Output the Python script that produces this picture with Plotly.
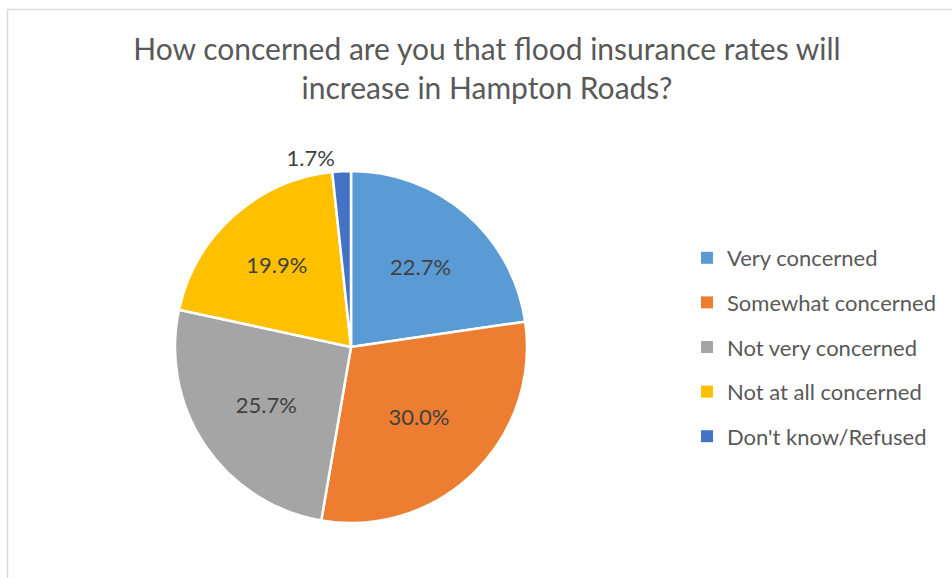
import plotly.graph_objects as go

categories = ["Very concerned", "Somewhat concerned", "Not very concerned",
              "Not at all concerned", "Don't know/Refused"]
values = [22.7, 30.0, 25.7, 19.9, 1.7]
colors = ["#5B9BD5", "#ED7D31", "#A5A5A5", "#FFC000", "#4472C4"]
title_text = "How concerned are you that flood insurance rates will<br>increase in Hampton Roads?"

W, H = 952, 578
FONT = "Lato"

fig = go.Figure()

cx, cy, r = 351, 347, 176
fig.add_trace(go.Pie(
    labels=categories,
    values=values,
    sort=False,
    direction="clockwise",
    rotation=0,
    marker=dict(colors=colors, line=dict(color="white", width=2.5)),
    texttemplate="%{value:.1f}%",
    textposition=["inside", "inside", "inside", "inside", "outside"],
    insidetextorientation="horizontal",
    textfont=dict(family=FONT, size=22, color="#404040"),
    domain=dict(x=[(cx - r) / W, (cx + r) / W],
                y=[(H - cy - r) / H, (H - cy + r) / H]),
    showlegend=False,
    hoverinfo="label+percent",
))

for i, (cat, col) in enumerate(zip(categories, colors)):
    fig.add_trace(go.Scatter(
        x=[None], y=[None], mode="markers", name=cat,
        marker=dict(symbol="square", size=7, color=col),
        legendgroup=f"g{i}", showlegend=True,
    ))

fig.update_layout(
    width=W, height=H,
    margin=dict(l=0, r=0, t=0, b=0),
    paper_bgcolor="white", plot_bgcolor="white",
    xaxis=dict(visible=False), yaxis=dict(visible=False),
    title=dict(text=title_text, x=487 / W, xanchor="center",
               y=1 - 60 / H, yanchor="middle",
               font=dict(family=FONT, size=30, color="#595959")),
    legend=dict(x=(727 - 40) / W, xanchor="left", y=1 - 347 / H, yanchor="middle",
                font=dict(family=FONT, size=22, color="#595959"),
                tracegroupgap=13, itemsizing="constant",
                bgcolor="rgba(0,0,0,0)"),
    shapes=[dict(type="rect", xref="paper", yref="paper",
                 x0=7.5 / W, x1=1.02, y0=-0.02, y1=1 - 9.5 / H,
                 line=dict(color="#D9D9D9", width=1.5), layer="below")],
)

fig.write_html("out.html", config={"displayModeBar": False},
               post_script="document.body.style.margin='0';document.body.style.overflow='hidden';")
